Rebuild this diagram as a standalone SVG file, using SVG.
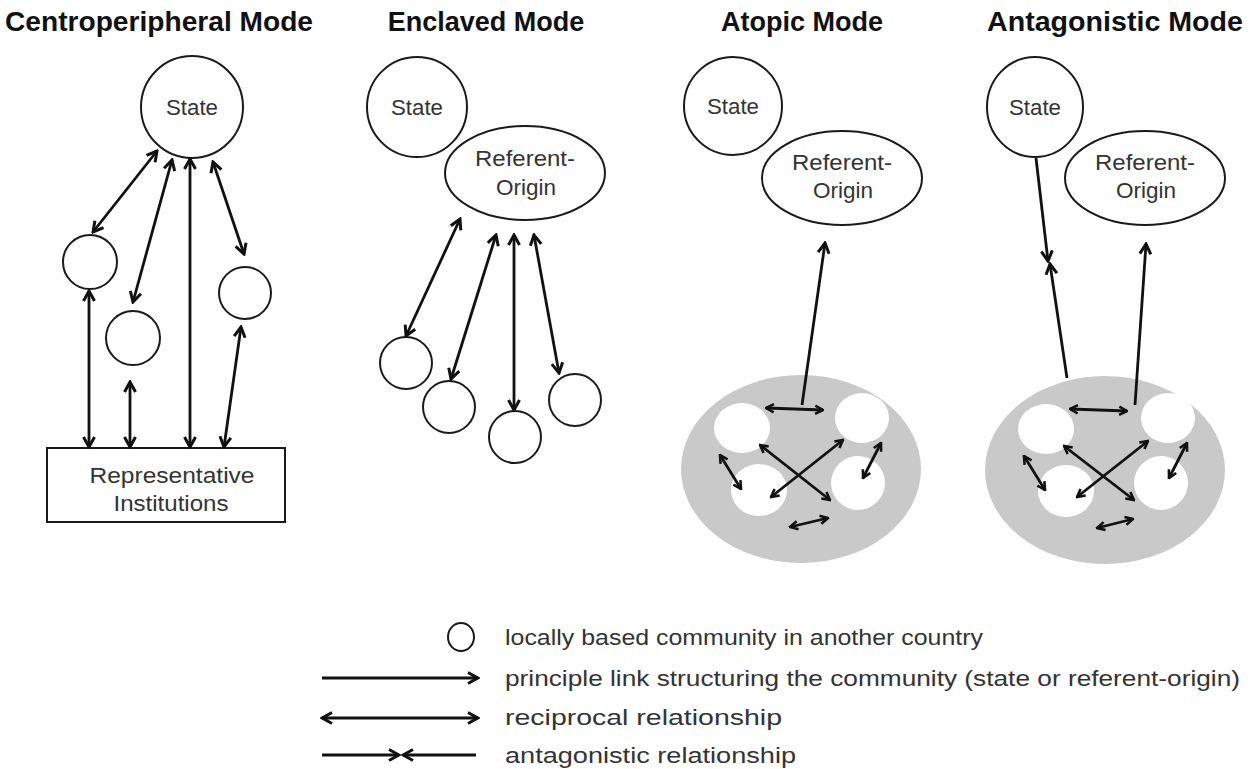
<svg xmlns="http://www.w3.org/2000/svg" width="1254" height="769" viewBox="0 0 1254 769">
<style>
.title{font-family:"Liberation Sans",Arial,sans-serif;font-weight:bold;font-size:27px;fill:#111;text-anchor:middle}
.lbl{font-family:"Liberation Sans",Arial,sans-serif;font-size:22px;fill:#333;text-anchor:middle}
.leg{font-family:"Liberation Sans",Arial,sans-serif;font-size:22px;fill:#333}
.node{fill:#fff;stroke:#1a1a1a;stroke-width:2}
.blob{fill:#c9c9c9;stroke:none}
.wc{fill:#fff;stroke:none}
.c{stroke:#111;stroke-width:2.8;fill:none}
.cs{stroke:#111;stroke-width:2.8;fill:none}
</style>
<defs>
<marker id="ah" viewBox="0 0 14 14" refX="12" refY="7" markerWidth="14" markerHeight="14" markerUnits="userSpaceOnUse" orient="auto-start-reverse">
<path d="M2,1.5 L12,7 L2,12.5" fill="none" stroke="#111" stroke-width="3"/>
</marker>
<marker id="ahs" viewBox="0 0 12 12" refX="10.5" refY="6" markerWidth="11" markerHeight="11" markerUnits="userSpaceOnUse" orient="auto-start-reverse">
<path d="M2,1.5 L10.5,6 L2,10.5" fill="none" stroke="#111" stroke-width="2.8"/>
</marker>
</defs>
<rect width="1254" height="769" fill="#fff"/>

<g id="titles">
<text class="title" x="159" y="31" textLength="308" lengthAdjust="spacingAndGlyphs">Centroperipheral Mode</text>
<text class="title" x="486" y="31">Enclaved Mode</text>
<text class="title" x="802" y="31">Atopic Mode</text>
<text class="title" x="1115" y="31" textLength="256" lengthAdjust="spacingAndGlyphs">Antagonistic Mode</text>
</g>

<!-- Centroperipheral -->
<g id="cp-state"><circle class="node" cx="192" cy="107" r="51"/><text class="lbl" x="192" y="115" textLength="52" lengthAdjust="spacingAndGlyphs">State</text></g>
<g id="cp-c1"><circle class="node" cx="90" cy="262" r="27"/></g>
<g id="cp-c2"><circle class="node" cx="133" cy="338" r="27"/></g>
<g id="cp-c3"><circle class="node" cx="245" cy="293" r="26"/></g>
<g id="cp-rep"><rect class="node" x="47" y="448" width="238" height="74"/><text class="lbl" x="172" y="483" textLength="165" lengthAdjust="spacingAndGlyphs">Representative</text><text class="lbl" x="171" y="511" textLength="115" lengthAdjust="spacingAndGlyphs">Institutions</text></g>

<!-- Enclaved -->
<g id="en-state"><circle class="node" cx="417" cy="107" r="50"/><text class="lbl" x="417" y="115" textLength="52" lengthAdjust="spacingAndGlyphs">State</text></g>
<g id="en-ro"><ellipse class="node" cx="525" cy="173" rx="80" ry="47"/><text class="lbl" x="525" y="166" textLength="100" lengthAdjust="spacingAndGlyphs">Referent-</text><text class="lbl" x="526" y="195" textLength="60" lengthAdjust="spacingAndGlyphs">Origin</text></g>
<g id="en-c1"><circle class="node" cx="406" cy="363" r="26"/></g>
<g id="en-c2"><circle class="node" cx="449" cy="407" r="26"/></g>
<g id="en-c3"><circle class="node" cx="515" cy="437" r="26"/></g>
<g id="en-c4"><circle class="node" cx="575" cy="400" r="26"/></g>

<!-- Atopic -->
<g id="at-state"><circle class="node" cx="733" cy="106" r="49"/><text class="lbl" x="733" y="114" textLength="52" lengthAdjust="spacingAndGlyphs">State</text></g>
<g id="at-ro"><ellipse class="node" cx="842" cy="178" rx="80" ry="47"/><text class="lbl" x="842" y="170" textLength="100" lengthAdjust="spacingAndGlyphs">Referent-</text><text class="lbl" x="843" y="198" textLength="60" lengthAdjust="spacingAndGlyphs">Origin</text></g>
<g id="at-community">
<ellipse class="blob" cx="801" cy="469" rx="120" ry="94"/>
<ellipse class="wc" cx="742" cy="428" rx="28" ry="25"/>
<ellipse class="wc" cx="862" cy="418" rx="27" ry="25"/>
<ellipse class="wc" cx="759" cy="490" rx="28" ry="26"/>
<ellipse class="wc" cx="858" cy="483" rx="27" ry="27"/>
</g>

<!-- Antagonistic -->
<g id="an-state"><ellipse class="node" cx="1035" cy="107" rx="48" ry="50"/><text class="lbl" x="1035" y="115" textLength="52" lengthAdjust="spacingAndGlyphs">State</text></g>
<g id="an-ro"><ellipse class="node" cx="1145" cy="178" rx="80" ry="47"/><text class="lbl" x="1145" y="170" textLength="100" lengthAdjust="spacingAndGlyphs">Referent-</text><text class="lbl" x="1146" y="198" textLength="60" lengthAdjust="spacingAndGlyphs">Origin</text></g>
<g id="an-community">
<ellipse class="blob" cx="1105" cy="470" rx="120" ry="94"/>
<ellipse class="wc" cx="1046" cy="429" rx="28" ry="25"/>
<ellipse class="wc" cx="1168" cy="418" rx="27" ry="25"/>
<ellipse class="wc" cx="1066" cy="491" rx="28" ry="26"/>
<ellipse class="wc" cx="1161" cy="483" rx="27" ry="27"/>
</g>

<g id="connectors">
<!-- centroperipheral -->
<line class="c" x1="157" y1="151" x2="93" y2="232" marker-start="url(#ah)" marker-end="url(#ah)"/>
<line class="c" x1="172" y1="160" x2="133" y2="302" marker-start="url(#ah)" marker-end="url(#ah)"/>
<line class="c" x1="190" y1="159" x2="190" y2="447" marker-start="url(#ah)" marker-end="url(#ah)"/>
<line class="c" x1="213" y1="162" x2="244" y2="254" marker-start="url(#ah)" marker-end="url(#ah)"/>
<line class="c" x1="89" y1="291" x2="89" y2="447" marker-start="url(#ah)" marker-end="url(#ah)"/>
<line class="c" x1="130" y1="382" x2="130" y2="447" marker-start="url(#ah)" marker-end="url(#ah)"/>
<line class="c" x1="241" y1="327" x2="224" y2="447" marker-start="url(#ah)" marker-end="url(#ah)"/>
<!-- enclaved -->
<line class="c" x1="460" y1="219" x2="406" y2="336" marker-start="url(#ah)" marker-end="url(#ah)"/>
<line class="c" x1="496" y1="235" x2="451" y2="379" marker-start="url(#ah)" marker-end="url(#ah)"/>
<line class="c" x1="514" y1="235" x2="514" y2="410" marker-start="url(#ah)" marker-end="url(#ah)"/>
<line class="c" x1="534" y1="235" x2="559" y2="373" marker-start="url(#ah)" marker-end="url(#ah)"/>
<!-- atopic -->
<line class="c" x1="802" y1="405" x2="825" y2="243" marker-end="url(#ah)"/>
<line class="cs" x1="766" y1="408" x2="823" y2="410" marker-start="url(#ahs)" marker-end="url(#ahs)"/>
<line class="cs" x1="720" y1="455" x2="741" y2="489" marker-start="url(#ahs)" marker-end="url(#ahs)"/>
<line class="cs" x1="881" y1="443" x2="863" y2="478" marker-start="url(#ahs)" marker-end="url(#ahs)"/>
<line class="cs" x1="790" y1="527" x2="828" y2="518" marker-start="url(#ahs)" marker-end="url(#ahs)"/>
<line class="cs" x1="760" y1="445" x2="830" y2="500" marker-start="url(#ahs)" marker-end="url(#ahs)"/>
<line class="cs" x1="843" y1="440" x2="771" y2="497" marker-start="url(#ahs)" marker-end="url(#ahs)"/>
<!-- antagonistic -->
<line class="c" x1="1036" y1="158" x2="1048" y2="261" marker-end="url(#ah)"/>
<line class="c" x1="1067" y1="378" x2="1050" y2="264" marker-end="url(#ah)"/>
<line class="c" x1="1135" y1="405" x2="1146" y2="244" marker-end="url(#ah)"/>
<line class="cs" x1="1070" y1="409" x2="1127" y2="411" marker-start="url(#ahs)" marker-end="url(#ahs)"/>
<line class="cs" x1="1024" y1="456" x2="1045" y2="490" marker-start="url(#ahs)" marker-end="url(#ahs)"/>
<line class="cs" x1="1187" y1="443" x2="1169" y2="478" marker-start="url(#ahs)" marker-end="url(#ahs)"/>
<line class="cs" x1="1097" y1="528" x2="1133" y2="519" marker-start="url(#ahs)" marker-end="url(#ahs)"/>
<line class="cs" x1="1064" y1="446" x2="1134" y2="500" marker-start="url(#ahs)" marker-end="url(#ahs)"/>
<line class="cs" x1="1148" y1="441" x2="1077" y2="497" marker-start="url(#ahs)" marker-end="url(#ahs)"/>
</g>

<g id="legend">
<ellipse class="node" cx="461" cy="637" rx="13" ry="14"/>
<text class="leg" x="505" y="645" textLength="478" lengthAdjust="spacingAndGlyphs">locally based community in another country</text>
<line class="c" x1="322" y1="678" x2="478" y2="678" marker-end="url(#ah)"/>
<text class="leg" x="505" y="686" textLength="735" lengthAdjust="spacingAndGlyphs">principle link structuring the community (state or referent-origin)</text>
<line class="c" x1="322" y1="718" x2="478" y2="718" marker-start="url(#ah)" marker-end="url(#ah)"/>
<text class="leg" x="505" y="725" textLength="277" lengthAdjust="spacingAndGlyphs">reciprocal relationship</text>
<line class="c" x1="322" y1="755" x2="399" y2="755" marker-end="url(#ah)"/>
<line class="c" x1="476" y1="755" x2="403" y2="755" marker-end="url(#ah)"/>
<text class="leg" x="505" y="763" textLength="291" lengthAdjust="spacingAndGlyphs">antagonistic relationship</text>
</g>
</svg>
